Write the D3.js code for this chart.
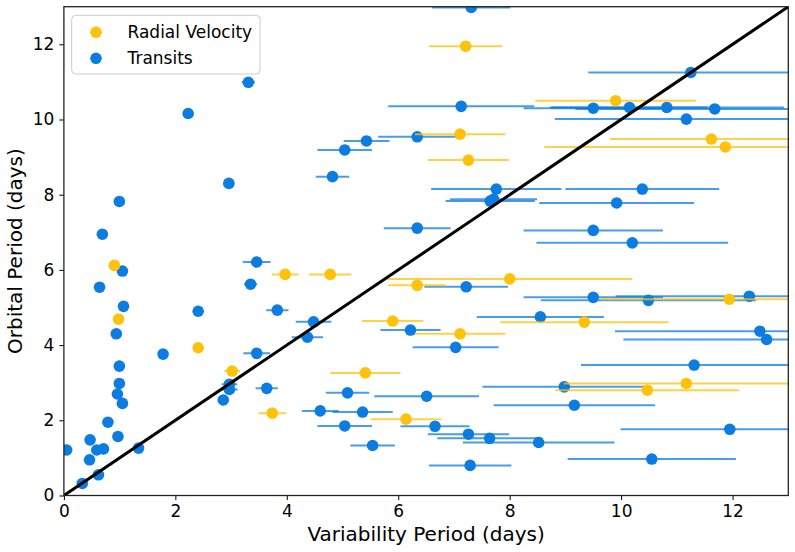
<!DOCTYPE html>
<html>
<head>
<meta charset="utf-8">
<script src="https://cdn.jsdelivr.net/npm/d3@7"></script>
<style>
  body { margin: 0; background: #fff; }
  svg text { font-family: "DejaVu Sans", sans-serif; fill: #000; }
</style>
</head>
<body>
<svg id="chart" width="795" height="552"></svg>
<script>
// Radial Velocity planets: variability period, orbital period, error on variability period
const rvX   = [7.21, 9.90, 7.11, 11.62, 11.87, 7.26, 0.905, 0.98, 3.97, 4.78, 8.00, 6.34, 11.94,
               5.90, 9.34, 7.11, 2.41, 3.02, 5.41, 11.17, 10.47, 3.74, 6.14];
const rvY   = [11.95, 10.50, 9.61, 9.48, 9.27, 8.92, 6.12, 4.69, 5.88, 5.88, 5.76, 5.59, 5.22,
               4.64, 4.61, 4.30, 3.93, 3.31, 3.26, 2.98, 2.80, 2.19, 2.03];
const rvErr = [0.66, 1.44, 0.81, 1.82, 3.25, 0.73, 0, 0, 0.24, 0.38, 2.20, 0.52, 2.30,
               0.55, 1.51, 0.81, 0, 0.14, 0.63, 2.20, 1.65, 0.25, 0.63];

// Transiting planets
const trX = [7.31, 11.25, 3.31, 2.23, 7.13, 9.50, 10.15, 10.82, 11.68, 11.17, 6.34, 5.43, 5.04,
             4.82, 2.96, 7.76, 10.38, 0.995, 7.65, 7.71, 9.92, 0.69, 6.34, 9.50, 10.20,
             3.46, 1.05, 0.64, 3.35, 7.22, 9.50, 10.49, 12.30, 1.07, 2.41, 3.83, 8.55,
             4.48, 0.94, 4.37, 6.22, 12.49, 12.61, 7.03, 1.78, 3.46, 0.995, 11.31,
             0.995, 2.97, 3.64, 8.98, 2.97, 0.96, 5.09, 6.51, 2.86, 1.05, 9.16,
             4.60, 5.36, 0.79, 5.04, 6.66, 11.95, 7.26, 0.97, 7.64, 8.52, 0.47, 5.54,
             0.05, 0.59, 0.71, 1.34, 0.46, 10.55, 7.29, 0.62, 0.33];
const trY = [12.98, 11.25, 10.99, 10.16, 10.35, 10.30, 10.32, 10.32, 10.28, 10.01, 9.54, 9.43, 9.19,
             8.48, 8.30, 8.15, 8.15, 7.82, 7.83, 7.88, 7.78, 6.95, 7.11, 7.05, 6.72,
             6.21, 5.97, 5.54, 5.62, 5.55, 5.27, 5.19, 5.30, 5.03, 4.90, 4.93, 4.75,
             4.62, 4.30, 4.21, 4.40, 4.37, 4.15, 3.94, 3.76, 3.78, 3.44, 3.47,
             2.98, 2.96, 2.85, 2.89, 2.82, 2.70, 2.73, 2.64, 2.54, 2.45, 2.40,
             2.25, 2.22, 1.95, 1.85, 1.84, 1.76, 1.63, 1.57, 1.52, 1.41, 1.48, 1.33,
             1.21, 1.21, 1.24, 1.26, 0.95, 0.97, 0.80, 0.55, 0.32];
const trErr = [0.70, 1.84, 0.12, 0, 1.31, 1.25, 1.40, 2.10, 2.50, 2.36, 0.70, 0.41, 0.49,
               0.30, 0.10, 1.17, 1.38, 0, 0.80, 0.78, 1.39, 0, 0.60, 1.25, 1.72,
               0.25, 0, 0, 0.12, 0.75, 1.25, 1.93, 2.40, 0, 0, 0.20, 1.14,
               0.32, 0, 0.28, 0.54, 2.60, 2.57, 0.77, 0, 0.24, 0, 2.03,
               0, 0.14, 0.20, 1.47, 0.15, 0, 0.39, 0.94, 0.06, 0, 1.45,
               0.33, 0.54, 0, 0.49, 0.62, 1.96, 0.73, 0, 0.94, 1.36, 0, 0.40,
               0, 0, 0, 0, 0, 1.51, 0.74, 0, 0];

const xTicks = [0, 2, 4, 6, 8, 10, 12];
const yTicks = [0, 2, 4, 6, 8, 10, 12];
const seriesNames = ["Radial Velocity", "Transits"];

const colRV = "#ffc20a", colTr = "#0c7ce0";

const svg = d3.select("#chart");
const margin = {left: 63.9, right: 795 - 788.3, top: 6.7, bottom: 552 - 495.5};
const W = 795 - margin.left - margin.right, H = 552 - margin.top - margin.bottom;

const x = d3.scaleLinear().domain([0, 13]).range([margin.left, margin.left + W]);
const y = d3.scaleLinear().domain([0, 13]).range([margin.top + H, margin.top]);

const plot = svg.append("g");
plot.append("clipPath").attr("id", "clip")
  .append("rect").attr("x", margin.left).attr("y", margin.top).attr("width", W).attr("height", H);
const inner = plot.append("g").attr("clip-path", "url(#clip)");

const rv = rvX.map((v, i) => ({x: v, y: rvY[i], e: rvErr[i]}));
const tr = trX.map((v, i) => ({x: v, y: trY[i], e: trErr[i]}));

let drawSeries = (data, color) => {
    inner.selectAll(null)
        .data(data.filter(d => d.e > 0))
        .enter()
        .append("line")
        .attr("x1", d => x(d.x - d.e))
        .attr("x2", d => x(d.x + d.e))
        .attr("y1", d => y(d.y))
        .attr("y2", d => y(d.y))
        .style("stroke", color)
        .style("stroke-opacity", 0.75)
        .style("stroke-width", 2);
    inner.selectAll(null)
        .data(data)
        .enter()
        .append("circle")
        .attr("cx", d => x(d.x))
        .attr("cy", d => y(d.y))
        .attr("r", 5.8)
        .style("fill", color);
};
drawSeries(tr, colTr);
drawSeries(rv, colRV);

// one-to-one line
inner.append("line")
    .attr("x1", x(0)).attr("y1", y(0))
    .attr("x2", x(13)).attr("y2", y(13))
    .style("stroke", "#000")
    .style("stroke-width", 3);

// axes
const xAxis = svg.append("g")
    .attr("transform", `translate(0,${margin.top + H})`)
    .call(d3.axisBottom(x).tickValues(xTicks).tickFormat(d3.format("d")).tickSize(4.5).tickPadding(5));
const yAxis = svg.append("g")
    .attr("transform", `translate(${margin.left},0)`)
    .call(d3.axisLeft(y).tickValues(yTicks).tickFormat(d3.format("d")).tickSize(4.5).tickPadding(5));
[xAxis, yAxis].forEach(a => {
    a.select(".domain").remove();
    a.selectAll(".tick line").style("stroke", "#000").style("stroke-width", 1);
    a.selectAll(".tick text").style("font-size", "17px").style("font-family", "DejaVu Sans");
});

// frame
svg.append("rect")
    .attr("x", margin.left).attr("y", margin.top)
    .attr("width", W).attr("height", H)
    .style("fill", "none").style("stroke", "#222").style("stroke-width", 1.3);

svg.append("text")
    .attr("x", margin.left + W / 2).attr("y", 541)
    .attr("text-anchor", "middle")
    .style("font-size", "20px")
    .text("Variability Period (days)");
svg.append("text")
    .attr("transform", `translate(22,${margin.top + H / 2}) rotate(-90)`)
    .attr("text-anchor", "middle")
    .style("font-size", "20px")
    .text("Orbital Period (days)");

// legend
const legend = svg.append("g");
legend.append("rect")
    .attr("x", 71.7).attr("y", 15.3).attr("width", 188.3).attr("height", 58.7)
    .attr("rx", 4)
    .style("fill", "#fff").style("fill-opacity", 0.8)
    .style("stroke", "#ccc").style("stroke-width", 1);
[colRV, colTr].forEach((c, i) => {
    legend.append("circle").attr("cx", 96).attr("cy", 32.3 + i * 26).attr("r", 5.8).style("fill", c);
    legend.append("text").attr("x", 127.5).attr("y", 32.3 + i * 26).attr("dy", "0.35em")
        .style("font-size", "17px").text(seriesNames[i]);
});
</script>
</body>
</html>
